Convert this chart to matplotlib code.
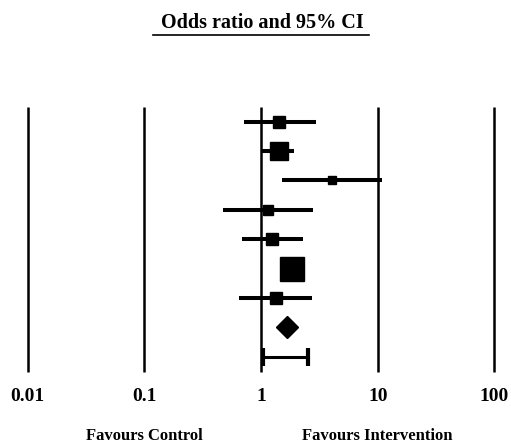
import matplotlib
matplotlib.use('Agg')
import matplotlib.pyplot as plt
from matplotlib.lines import Line2D

plt.rcParams['font.family'] = 'Liberation Serif'
plt.rcParams['font.weight'] = 'bold'

# study odds ratios and 95% CI
odds_ratio = [1.43, 1.43, 4.06, 1.15, 1.24, 1.84, 1.35]
ci_low = [0.71, 1.02, 1.51, 0.47, 0.69, 1.55, 0.65]
ci_high = [2.96, 1.92, 10.9, 2.79, 2.29, 2.20, 2.74]
weight_size = [8, 13.5, 6, 6.5, 8.5, 17.5, 8]  # marker side, points

pooled_or = 1.67
pooled_low = 1.04
pooled_high = 2.53

ticks = [0.01, 0.1, 1, 10, 100]
tick_labels = ['0.01', '0.1', '1', '10', '100']

fig = plt.figure(figsize=(5.11, 4.48), dpi=100)
ax = fig.add_axes([0, 0, 1, 1])
ax.set_xscale('log')
ax.set_xlim(10 ** (-261 / 116.7), 10 ** ((511 - 261) / 116.7))
ax.set_ylim(11.1, -4.14)
ax.axis('off')

# reference lines
ax.vlines(ticks, -0.5, 8.5, color='black', lw=1.8)

for i, (o, lo, hi, s) in enumerate(zip(odds_ratio, ci_low, ci_high, weight_size)):
    ax.plot([lo, hi], [i, i], color='black', lw=2.9, solid_capstyle='butt')
    ax.plot(o, i, marker='s', ms=s, color='black')

n = len(odds_ratio)
ax.plot(pooled_or, n, marker='D', ms=11.5, color='black')
ax.errorbar(pooled_or, n + 1, xerr=[[pooled_or - pooled_low], [pooled_high - pooled_or]],
            fmt='none', ecolor='black', elinewidth=2.2, capsize=6.8, capthick=3)

for t, lab in zip(ticks, tick_labels):
    ax.text(t, 9.35, lab, ha='center', va='center', fontsize=14, fontweight='bold')

ax.text(0.1, 10.82, 'Favours Control', ha='center', va='baseline',
        fontsize=12, fontweight='bold')
ax.text(10, 10.82, 'Favours Intervention', ha='center', va='baseline',
        fontsize=12, fontweight='bold')

fig.text(262 / 511, 1 - 23 / 448, 'Odds ratio and 95% CI', ha='center', va='center',
         fontsize=14.5, fontweight='bold')
fig.add_artist(Line2D([153 / 511, 369 / 511], [1 - 35 / 448, 1 - 35 / 448],
                      transform=fig.transFigure, color='black', lw=1.2))

fig.savefig('out.png', dpi=100)
